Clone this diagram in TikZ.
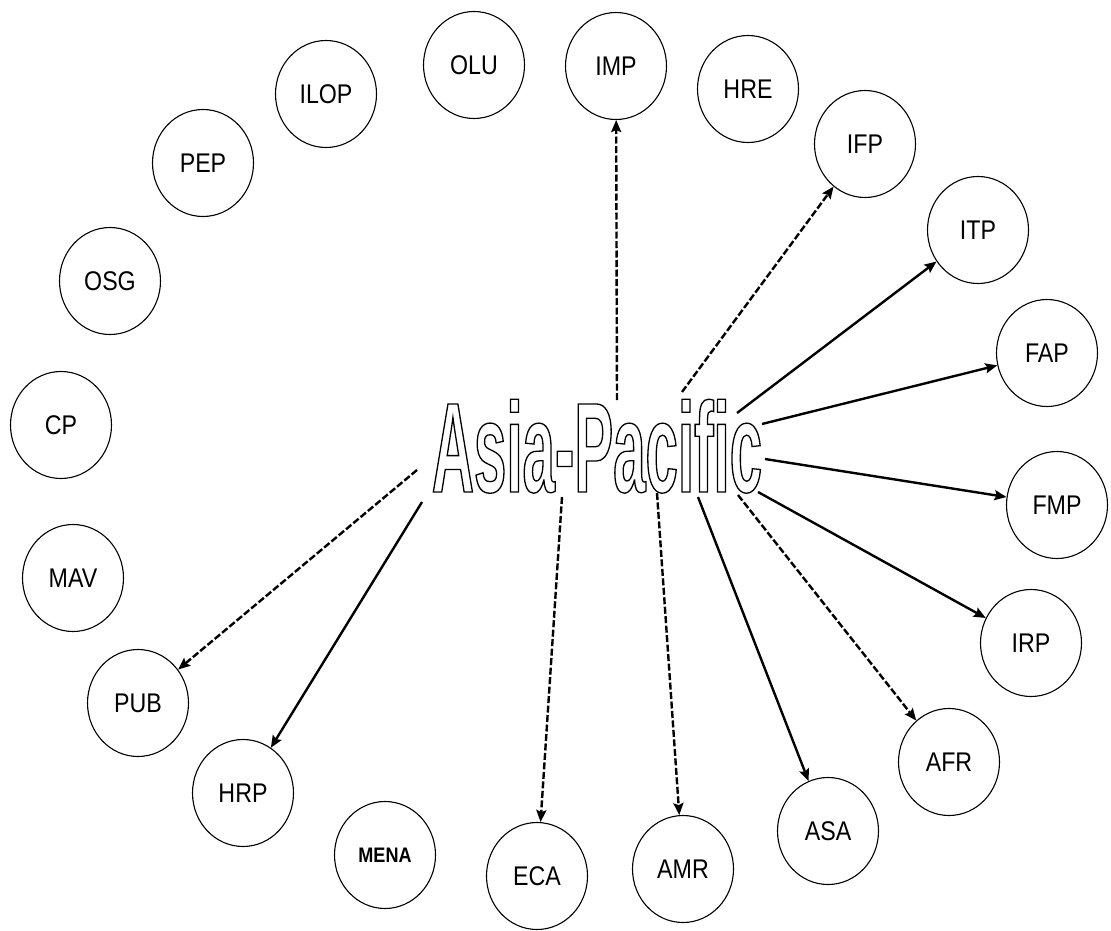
\documentclass[tikz,border=0pt]{standalone}
\usepackage{fontspec}
\setmainfont{Liberation Sans}
\newfontfamily\lblfont{Liberation Sans}[FakeStretch=0.86]
\newfontfamily\apfont{Liberation Sans Bold}[FakeStretch=0.455]
\usetikzlibrary{shapes.geometric,arrows.meta}
\newcommand\outlinetext[1]{\special{pdf:literal direct 1 Tr 1.3 w}#1\special{pdf:literal direct 0 Tr 0.4 w}}
\begin{document}
\begin{tikzpicture}[x=1pt,y=-1pt,
  circ/.style={ellipse,draw,line width=1.1pt,minimum width=101pt,minimum height=107pt,inner sep=0pt,
    font=\lblfont\fontsize{27}{30}\selectfont},
  arr/.style={line width=2.4pt,-{Stealth[length=12pt,width=10pt,inset=2pt]}},
  dsh/.style={arr,dash pattern=on 7pt off 2.5pt}]
\useasboundingbox (0,0) rectangle (1111,931);
% circles
\node[circ] (OLU)  at (474,65)  {OLU};
\node[circ] (IMP)  at (616,66)  {IMP};
\node[circ] (HRE)  at (748,89)  {HRE};
\node[circ] (ILOP) at (326,94)  {ILOP};
\node[circ] (PEP)  at (203,163) {PEP};
\node[circ] (IFP)  at (865,144) {IFP};
\node[circ] (ITP)  at (978,230) {ITP};
\node[circ] (FAP)  at (1047,353) {FAP};
\node[circ] (FMP)  at (1057,505) {FMP};
\node[circ] (IRP)  at (1031,643) {IRP};
\node[circ] (AFR)  at (949,762) {AFR};
\node[circ] (ASA)  at (828,831) {ASA};
\node[circ] (AMR)  at (683,869) {AMR};
\node[circ] (ECA)  at (537,876) {ECA};
\node[circ,font=\lblfont\bfseries\fontsize{21}{24}\selectfont] (MENA) at (385,855) {MENA};
\node[circ] (HRP)  at (243,793) {HRP};
\node[circ] (PUB)  at (138,703) {PUB};
\node[circ] (MAV)  at (73,578)  {MAV};
\node[circ] (CP)   at (61,425)  {CP};
\node[circ] (OSG)  at (110,281) {OSG};
% centre title
\node[anchor=base,inner sep=0pt,font=\apfont\fontsize{128}{130}\selectfont] (AP) at (597,492) {\outlinetext{Asia-Pacific}};
% start points of connectors
\coordinate (sIMP) at (617,400);
\coordinate (sIFP) at (682,392);
\coordinate (sITP) at (737,413);
\coordinate (sFAP) at (762,424);
\coordinate (sFMP) at (765,459);
\coordinate (sIRP) at (758,492);
\coordinate (sAFR) at (738,495);
\coordinate (sASA) at (698,497);
\coordinate (sAMR) at (657,493);
\coordinate (sECA) at (562,497);
\coordinate (sHRP) at (422,502);
\coordinate (sPUB) at (417,470);
% connectors
\draw[dsh] (sIMP) -- (IMP);
\draw[dsh] (sIFP) -- (IFP);
\draw[arr] (sITP) -- (ITP);
\draw[arr] (sFAP) -- (FAP);
\draw[arr] (sFMP) -- (FMP);
\draw[arr] (sIRP) -- (IRP);
\draw[dsh] (sAFR) -- (AFR);
\draw[arr] (sASA) -- (ASA);
\draw[dsh] (sAMR) -- (AMR);
\draw[dsh] (sECA) -- (ECA);
\draw[arr] (sHRP) -- (HRP);
\draw[dsh] (sPUB) -- (PUB);
\end{tikzpicture}
\end{document}
